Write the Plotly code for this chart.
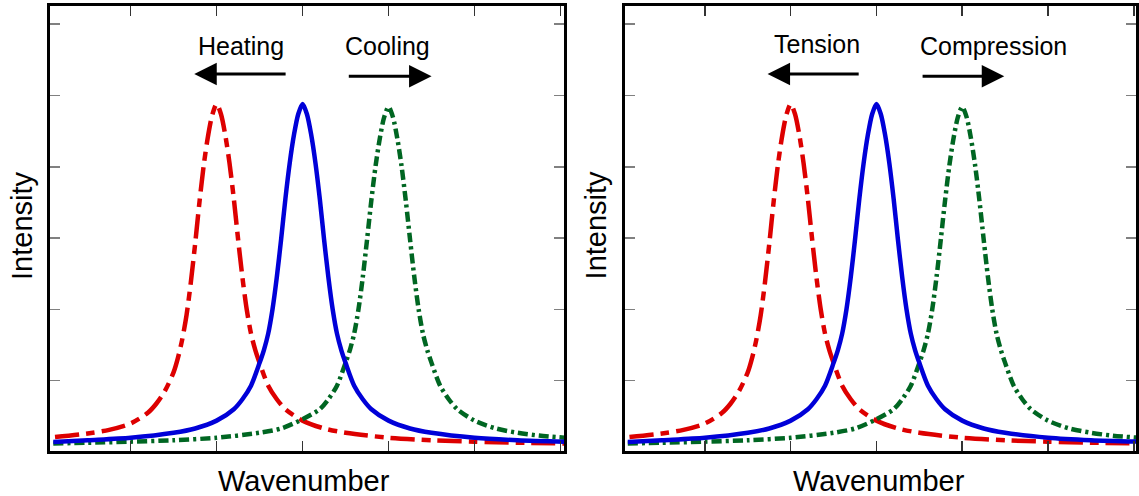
import plotly.graph_objects as go

# ---- data (x in tick units, y in tick units) ----
red_x = [0.12, 0.5, 0.75, 1.0, 1.2, 1.3, 1.4, 1.5, 1.55, 1.6, 1.65, 1.7, 1.75, 1.8, 1.85, 1.9, 1.95, 2.0,
         2.05, 2.1, 2.15, 2.2, 2.25, 2.3, 2.35, 2.4, 2.45, 2.5, 2.6, 2.7, 2.8, 3.0, 3.25, 3.5, 4.0, 4.5,
         5.0, 5.5, 6.05]
red_y = [0.21, 0.26, 0.31, 0.40, 0.55, 0.68, 0.86, 1.12, 1.32, 1.58, 1.92, 2.38, 2.92, 3.50, 4.02, 4.43,
         4.73, 4.88, 4.74, 4.45, 4.05, 3.55, 2.98, 2.45, 2.00, 1.66, 1.43, 1.25, 0.93, 0.74, 0.60, 0.44,
         0.33, 0.27, 0.20, 0.165, 0.145, 0.13, 0.12]

blue_x = [0.1, 0.5, 1.0, 1.5, 1.75, 2.0, 2.2, 2.3, 2.4, 2.5, 2.55, 2.6, 2.65, 2.7, 2.75, 2.8, 2.85, 2.9,
          2.95, 3.0, 3.05, 3.1, 3.15, 3.2, 3.25, 3.3, 3.35, 3.4, 3.45, 3.5, 3.6, 3.7, 3.8, 4.0, 4.25, 4.5,
          5.0, 5.5, 6.05]
blue_y = [0.14, 0.165, 0.20, 0.27, 0.33, 0.44, 0.60, 0.74, 0.93, 1.25, 1.43, 1.66, 2.00, 2.45, 2.98, 3.55,
          4.05, 4.45, 4.74, 4.88, 4.74, 4.45, 4.05, 3.55, 2.98, 2.45, 2.00, 1.66, 1.43, 1.25, 0.93, 0.74,
          0.60, 0.44, 0.33, 0.27, 0.20, 0.165, 0.145]

green_x = [0.1, 0.5, 1.0, 1.5, 2.0, 2.5, 2.75, 3.0, 3.2, 3.3, 3.4, 3.5, 3.55, 3.6, 3.65, 3.7, 3.75, 3.8,
           3.85, 3.9, 3.95, 4.0, 4.05, 4.1, 4.15, 4.2, 4.25, 4.3, 4.35, 4.4, 4.45, 4.5, 4.6, 4.7, 4.8,
           5.0, 5.25, 5.5, 5.75, 6.05]
green_y = [0.12, 0.13, 0.145, 0.165, 0.20, 0.27, 0.33, 0.46, 0.60, 0.74, 0.93, 1.25, 1.43, 1.66, 2.00,
           2.45, 2.98, 3.53, 4.02, 4.41, 4.70, 4.84, 4.70, 4.41, 4.02, 3.53, 2.98, 2.45, 2.00, 1.66, 1.43,
           1.25, 0.93, 0.74, 0.60, 0.44, 0.33, 0.27, 0.23, 0.20]

x_ticks = [1, 2, 3, 4, 5, 6]
y_ticks = [1, 2, 3, 4, 5, 6]

left_labels = ["Heating", "Cooling"]
right_labels = ["Tension", "Compression"]
x_title = "Wavenumber"
y_title = "Intensity"

W, H = 1139, 496
RED, BLUE, GREEN = "#dd0000", "#0000d8", "#006622"
FONT = "Liberation Sans, Arial, sans-serif"

fig = go.Figure()

for xa, ya in (("x", "y"), ("x2", "y2")):
    fig.add_trace(go.Scatter(x=red_x, y=red_y, xaxis=xa, yaxis=ya, mode="lines",
                             line=dict(color=RED, width=4.5, dash="24px,7px,9px,7px", shape="spline",
                                       smoothing=0.8), hoverinfo="skip"))
    fig.add_trace(go.Scatter(x=green_x, y=green_y, xaxis=xa, yaxis=ya, mode="lines",
                             line=dict(color=GREEN, width=4.5, dash="10px,4px,3px,4px", shape="spline",
                                       smoothing=0.8), hoverinfo="skip"))
    fig.add_trace(go.Scatter(x=blue_x, y=blue_y, xaxis=xa, yaxis=ya, mode="lines",
                             line=dict(color=BLUE, width=4.5, shape="spline", smoothing=0.8),
                             hoverinfo="skip"))

ydom = [1 - 451 / H, 1 - 6 / H]
common_x = dict(showline=True, linewidth=3, linecolor="black", mirror="ticks", ticks="inside",
                ticklen=10, tickwidth=1.5, tickcolor="#333333", tickvals=x_ticks,
                showticklabels=False, showgrid=False, zeroline=False, fixedrange=True)
common_y = dict(showline=True, linewidth=3, linecolor="black", mirror="ticks", ticks="inside",
                ticklen=10, tickwidth=1.5, tickcolor="#808080", tickvals=y_ticks,
                showticklabels=False, showgrid=False, zeroline=False, range=[0.014, 6.255],
                fixedrange=True)

fig.update_layout(
    width=W, height=H, margin=dict(l=0, r=0, t=0, b=0),
    paper_bgcolor="white", plot_bgcolor="white", showlegend=False,
    xaxis=dict(domain=[50.5 / W, 565.5 / W], range=[0.066, 6.041], anchor="y", **common_x),
    yaxis=dict(domain=ydom, anchor="x", **common_y),
    xaxis2=dict(domain=[626.5 / W, 1.0], range=[0.066, 6.026], anchor="y2", **common_x),
    yaxis2=dict(domain=ydom, anchor="x2", **common_y),
    font=dict(family=FONT, color="black"),
)

ann = []
lab_font = dict(size=25, color="black", family=FONT)
c = dict(showarrow=False, xanchor="center", yanchor="middle", font=lab_font)
# text labels
ann.append(dict(x=2.28, y=5.69, xref="x", yref="y", text=left_labels[0], **c))
ann.append(dict(x=3.99, y=5.69, xref="x", yref="y", text=left_labels[1], **c))
ann.append(dict(x=2.31, y=5.72, xref="x2", yref="y2", text=right_labels[0], **c))
ann.append(dict(x=4.37, y=5.69, xref="x2", yref="y2", text=right_labels[1], **c))
# arrows
arrow = dict(text="", showarrow=True, arrowhead=2, arrowsize=1.5, arrowwidth=3, arrowcolor="black",
             standoff=0, startstandoff=0)
ann.append(dict(x=1.74, y=5.30, ax=2.82, ay=5.30, xref="x", yref="y", axref="x", ayref="y", **arrow))
ann.append(dict(x=4.50, y=5.27, ax=3.52, ay=5.27, xref="x", yref="y", axref="x", ayref="y", **arrow))
ann.append(dict(x=1.73, y=5.30, ax=2.81, ay=5.30, xref="x2", yref="y2", axref="x2", ayref="y2", **arrow))
ann.append(dict(x=4.49, y=5.27, ax=3.52, ay=5.27, xref="x2", yref="y2", axref="x2", ayref="y2", **arrow))
# axis titles
tit_font = dict(size=29, color="black", family=FONT)
t = dict(xref="paper", yref="paper", showarrow=False, xanchor="center", yanchor="middle", font=tit_font)
ann.append(dict(x=305 / W, y=1 - 481 / H, text=x_title, **t))
ann.append(dict(x=881 / W, y=1 - 481 / H, text=x_title, **t))
ann.append(dict(x=22 / W, y=1 - 225 / H, text=y_title, textangle=-90, **t))
ann.append(dict(x=598 / W, y=1 - 225 / H, text=y_title, textangle=-90, **t))
fig.update_layout(annotations=ann)

fig.write_html("out.html", config={"displayModeBar": False, "staticPlot": True},
               post_script="document.body.style.margin='0px';")
